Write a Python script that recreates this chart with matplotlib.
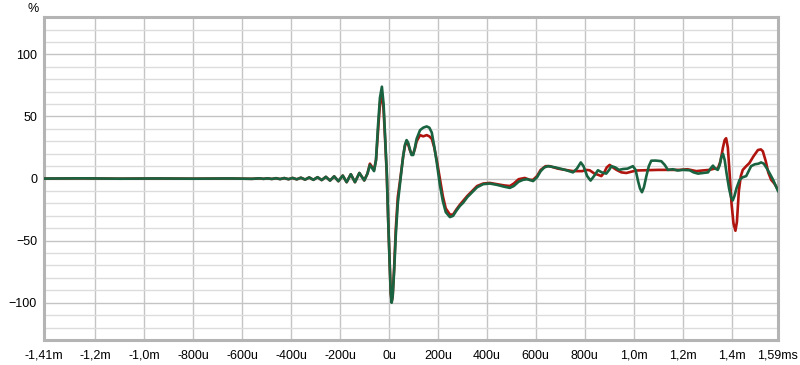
import matplotlib
matplotlib.use("Agg")
import matplotlib.pyplot as plt
from matplotlib.ticker import MultipleLocator

# time in microseconds, values in %
pre_t = [-1410, -1250, -1100, -950, -800, -650, -560, -530, -513, -496, -479, -462,
         -445, -428, -411, -394, -377, -360, -343, -326, -309, -292, -275, -258,
         -241, -224, -207, -189, -173, -156, -139, -121, -101, -88]
pre_v = [0, 0.2, -0.1, 0.1, -0.1, 0.1, -0.2, 0.2, -0.2, 0.2, -0.3, 0.3,
         -0.4, 0.4, -0.5, 0.5, -0.6, 0.7, -0.8, 0.9, -1.0, 1.1, -1.2, 1.4,
         -1.6, 1.8, -2.1, 2.4, -2.9, 3.5, -2.9, 4.5, -1.5, 4]

green_t = [-78, -68, -61, -53, -45, -37, -29, -22, -16, -9, -3, 3, 7, 11, 15, 21, 28, 36,
           45, 52, 58, 65, 72, 78, 85, 92, 99, 106, 113, 127, 140, 154, 165, 175, 185, 196,
           208, 220, 232, 249, 262, 275, 290, 303, 320, 340, 360, 385, 412, 440, 470, 494,
           510, 530, 548, 565, 589, 605, 620, 635, 650, 680, 720, 752, 768, 784, 795, 810,
           824, 838, 854, 870, 888, 900, 909, 925, 940, 957, 975, 997, 1008, 1018, 1026,
           1034, 1042, 1052, 1062, 1072, 1090, 1113, 1127, 1140, 1160, 1180, 1200, 1229,
           1245, 1263, 1285, 1304, 1314, 1324, 1334, 1344, 1352, 1358, 1365, 1372, 1380,
           1390, 1398, 1405, 1412, 1420, 1433, 1445, 1460, 1470, 1480, 1495, 1510, 1521,
           1532, 1545, 1555, 1570, 1590]
green_v = [11, 8, 6, 15, 42, 65, 74, 60, 35, 5, -35, -70, -92, -100, -95, -75, -45, -20,
           -4, 8, 18, 27, 31, 29, 24, 19, 19, 25, 32, 39, 41, 42, 41, 37, 26, 12,
           -5, -18, -27, -31, -30, -26, -22, -19.5, -15, -11, -7, -4.5, -4, -5, -6.5, -7.5,
           -6, -2.5, -1, -0.5, -2, 1, 6, 9, 10, 9, 7, 5, 8, 13, 10, 2,
           -1.6, 2, 6.7, 5, 4, 7, 10, 9, 7, 7.7, 8, 10, 7, -2, -8,
           -11, -7, 2, 10, 14.4, 14.5, 14, 11, 7, 7.5, 6.5, 7, 6.7,
           5, 4, 4.5, 5, 8, 10.4, 8, 7, 11, 17, 20, 15, 4,
           -8, -15, -17.6, -14, -8, -1, 1, 2, 6, 10, 11.5, 12, 13,
           12, 8, 4.5, -1, -10]

red_t = [-78, -68, -61, -53, -45, -37, -29, -22, -16, -9, -3, 3, 7, 11, 15, 21, 28, 36,
         45, 52, 58, 65, 72, 78, 85, 92, 99, 106, 113, 127, 140, 154, 165, 175, 185, 196,
         208, 220, 232, 249, 262, 275, 290, 303, 320, 340, 360, 385, 412, 440, 470, 494,
         510, 530, 555, 575, 589, 605, 620, 640, 657, 690, 720, 752, 770, 790, 805, 820,
         840, 855, 868, 880, 890, 902, 915, 930, 950, 970, 990, 1010, 1051, 1100, 1150,
         1188, 1220, 1256, 1280, 1310, 1330, 1344, 1355, 1365, 1372, 1378, 1385, 1392,
         1400, 1408, 1416, 1422, 1430, 1438, 1446, 1460, 1473, 1490, 1508, 1520, 1528,
         1540, 1550, 1562, 1575, 1590]
red_v = [12, 9, 7, 15, 38, 60, 68, 55, 32, 3, -35, -70, -92, -99, -95, -72, -40, -15,
         -2, 9, 18, 26, 30, 28, 23, 20, 20, 24, 30, 35, 34, 35, 34, 32, 25, 14,
         0, -14, -24, -29, -29, -25, -21, -18, -14, -10, -6, -4, -3.5, -4.5, -5.5, -6,
         -4, -0.5, 0.5, -1, -1, 2, 7, 10, 10, 8, 7, 6, 6, 6, 7, 6.7,
         4, 3, 2, 5, 9, 11, 9, 7, 5, 4.5, 5.5, 6.5, 6.7, 7, 7,
         7, 7.5, 6, 6.5, 7, 8, 8, 14, 25, 31, 32.5, 25, 5,
         -20, -36, -42, -35, -10, 2, 7, 10, 12.5, 18, 23, 23.5, 22,
         14, 5, -1, -4, -9]

x_ticks = [-1410, -1200, -1000, -800, -600, -400, -200, 0, 200, 400, 600, 800, 1000, 1200, 1400, 1590]
x_labels = ["-1,41m", "-1,2m", "-1,0m", "-800u", "-600u", "-400u", "-200u", "0u",
            "200u", "400u", "600u", "800u", "1,0m", "1,2m", "1,4m", "1,59ms"]
y_ticks = [-100, -50, 0, 50, 100]

plt.rcParams["font.family"] = ["Liberation Sans", "DejaVu Sans"]

fig = plt.figure(figsize=(8, 3.65), dpi=100)
ax = fig.add_axes([0.055, 0.0685, 0.9175, 0.8845])

ax.plot(pre_t + red_t, pre_v + red_v, color="#b0140f", lw=1.9, solid_joinstyle="round", zorder=3)
ax.plot(pre_t + green_t, pre_v + green_v, color="#1a6340", lw=1.9, solid_joinstyle="round", zorder=4)

ax.set_xlim(-1410, 1590)
ax.set_ylim(-130, 130)
ax.set_xticks(x_ticks)
ax.set_xticklabels(x_labels)
ax.set_yticks(y_ticks)
ax.yaxis.set_minor_locator(MultipleLocator(10))
ax.tick_params(which="both", length=0, labelsize=9, colors="#000000")
ax.tick_params(axis="x", pad=7)
ax.tick_params(axis="y", pad=5)

ax.grid(True, which="major", color="#c4c4c4", lw=1)
ax.grid(True, which="minor", axis="y", color="#dcdcdc", lw=1)
ax.set_axisbelow(True)

for s in ax.spines.values():
    s.set_color("#b4b4b4")
    s.set_linewidth(2.2)

fig.text(0.041, 0.975, "%", fontsize=9, ha="center", va="center")

fig.savefig("out.png", dpi=100)
